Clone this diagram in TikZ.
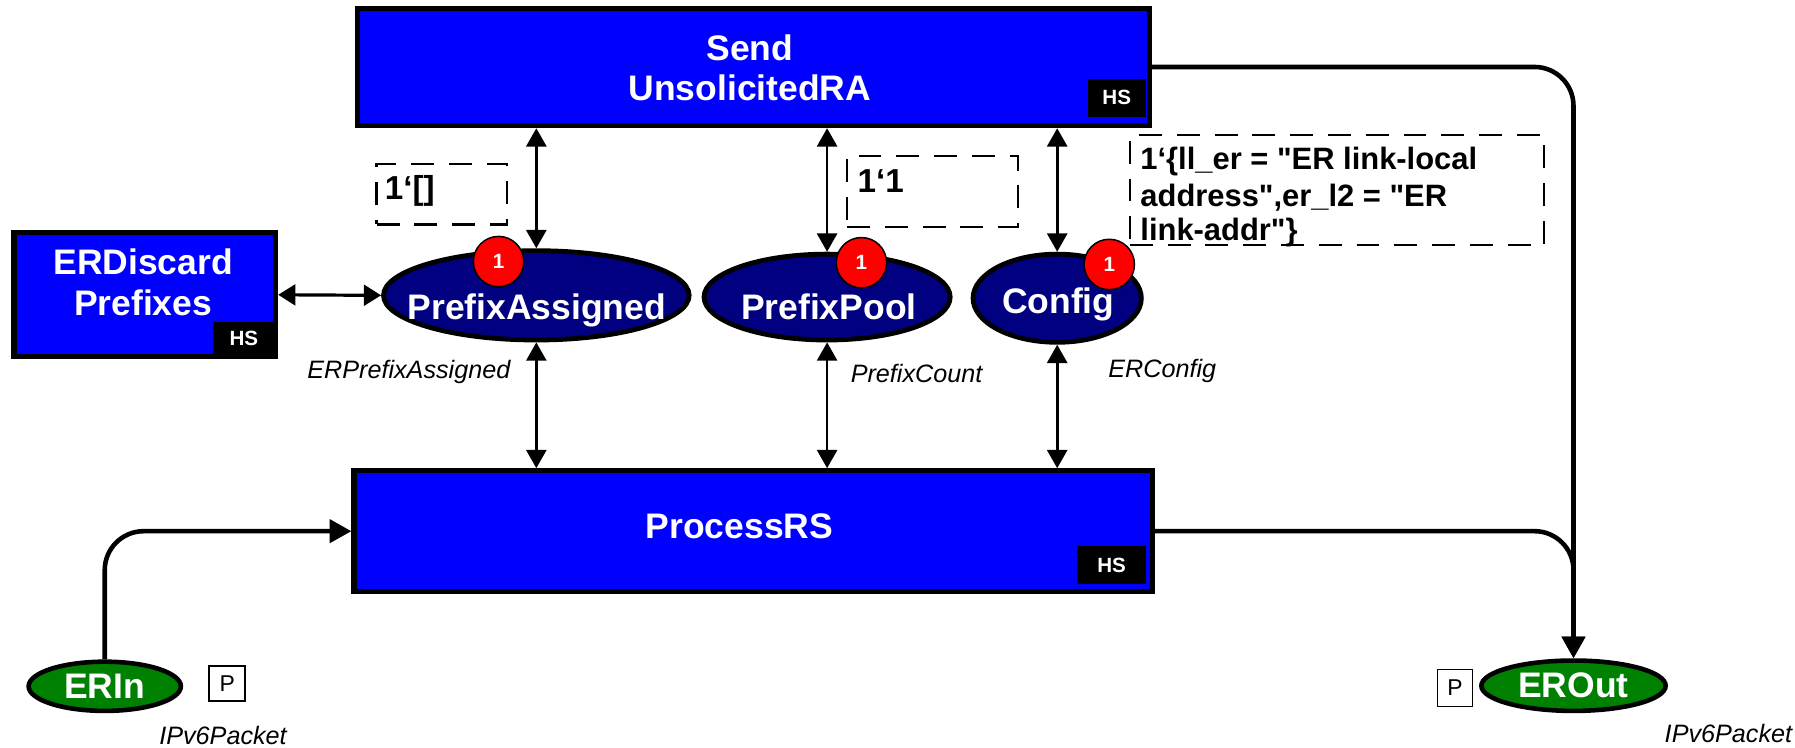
\documentclass[tikz,border=0pt]{standalone}
\usepackage{fontspec}
\setmainfont{Liberation Sans}[Ligatures=TeXOff]
\usetikzlibrary{arrows.meta,shapes.geometric}
\definecolor{transblue}{RGB}{0,0,255}
\definecolor{placenavy}{RGB}{0,0,128}
\definecolor{tokenred}{RGB}{255,0,0}
\definecolor{portgreen}{RGB}{0,128,0}
\begin{document}
\begin{tikzpicture}[x=1pt,y=-1pt,
  trans/.style={rectangle, draw=black, line width=4.5pt, fill=transblue, inner sep=0pt},
  place/.style={ellipse, draw=black, line width=4.2pt, fill=placenavy, inner sep=0pt},
  port/.style={ellipse, draw=black, line width=4pt, fill=portgreen, inner sep=0pt},
  lbl/.style={text=white, inner sep=0pt, anchor=base, font={\fontsize{31}{35}\selectfont\bfseries}},
  hstag/.style={rectangle, fill=black, text=white, inner sep=0pt, font={\fontsize{18}{20}\selectfont\bfseries}},
  token/.style={circle, draw=black, line width=1.3pt, fill=tokenred, text=white, inner sep=0pt,
    minimum size=44pt, font={\fontsize{18}{20}\selectfont\bfseries}},
  ptag/.style={rectangle, draw=black, line width=1.5pt, fill=white, inner sep=0pt,
    font={\fontsize{20}{24}\selectfont}},
  annot/.style={rectangle, draw=black, line width=2pt, dash pattern=on 20pt off 13pt, inner sep=0pt},
  inittxt/.style={inner sep=0pt, anchor=base west, font={\fontsize{29}{33}\selectfont\bfseries}},
  inittxtsm/.style={inner sep=0pt, anchor=base west, font={\fontsize{27}{31}\selectfont\bfseries}},
  typ/.style={inner sep=0pt, font={\fontsize{22}{26}\selectfont\itshape}},
  dbl/.style={line width=2.3pt, {Triangle[length=16pt,width=17.5pt]}-{Triangle[length=16pt,width=17.5pt]}},
  dblwide/.style={line width=2.8pt, {Triangle[length=15pt,width=18pt]}-{Triangle[length=15pt,width=18pt]}},
  flow/.style={line width=4pt, rounded corners=34pt, -{Triangle[length=19pt,width=20pt]}}
]
\useasboundingbox (0,0) rectangle (1568,653);

% transitions
\node[trans, minimum width=691.5pt, minimum height=102.5pt] (send) at (658,58.5) {};
\node[lbl] (send-t1) at (655,53) {Send};
\node[lbl] (send-t2) at (655,88) {UnsolicitedRA};
\node[hstag, minimum width=51pt, minimum height=33pt] (send-hs) at (975.5,85.5) {HS};

\node[trans, minimum width=697.5pt, minimum height=105.5pt] (prs) at (658,464) {};
\node[lbl] (prs-t) at (646,470) {ProcessRS};
\node[hstag, minimum width=60pt, minimum height=33pt] (prs-hs) at (971,493.5) {HS};

\node[trans, minimum width=228.5pt, minimum height=108.5pt] (erd) at (126.5,257.5) {};
\node[lbl] (erd-t1) at (125,240) {ERDiscard};
\node[lbl] (erd-t2) at (125,276) {Prefixes};
\node[hstag, minimum width=54pt, minimum height=30pt] (erd-hs) at (213,296) {HS};

% places
\node[place, minimum width=267pt, minimum height=78pt] (pa) at (468.5,258) {};
\node[lbl] (pa-t) at (469,279) {PrefixAssigned};
\node[token] (pa-tok) at (435.5,228.5) {1};

\node[place, minimum width=215pt, minimum height=75pt] (pp) at (722.5,259.5) {};
\node[lbl] (pp-t) at (724,279) {PrefixPool};
\node[token] (pp-tok) at (752.5,229.5) {1};

\node[place, minimum width=147pt, minimum height=77pt] (cfg) at (923.5,260.5) {};
\node[lbl] (cfg-t) at (924.5,274) {Config};
\node[token] (cfg-tok) at (969,231) {1};

% port places
\node[port, minimum width=133pt, minimum height=43pt] (erin) at (91.5,599.5) {};
\node[lbl, anchor=center] (erin-t) at (erin.center) {ERIn};
\node[ptag, minimum width=31.5pt, minimum height=30.5pt] (erin-p) at (198.5,597) {P};

\node[port, minimum width=161pt, minimum height=44pt] (erout) at (1374.5,599) {};
\node[lbl, anchor=center] (erout-t) at (erout.center) {EROut};
\node[ptag, minimum width=30.5pt, minimum height=32.5pt] (erout-p) at (1271,601) {P};

% initial markings
\node[annot, minimum width=114pt, minimum height=53pt] (pa-init) at (386,169.5) {};
\node[inittxt] (pa-init-t) at (336,174) {1‘[]};
\node[annot, minimum width=149pt, minimum height=62pt] (pp-init) at (814.5,167) {};
\node[inittxt] (pp-init-t) at (749,168) {1‘1};
\node[annot, minimum width=362pt, minimum height=96pt] (cfg-init) at (1168,166) {};
\node[inittxtsm] (cfg-init-1) at (996,148) {1‘\{ll\_er = "ER link-local};
\node[inittxtsm] (cfg-init-2) at (996,180) {address",er\_l2 = "ER};
\node[inittxtsm] (cfg-init-3) at (996,210) {link-addr"\}};

% colour sets
\node[typ, anchor=base east] (pa-cs) at (446,331) {ERPrefixAssigned};
\node[typ, anchor=base west] (pp-cs) at (743,334) {PrefixCount};
\node[typ, anchor=base west] (cfg-cs) at (968,330) {ERConfig};
\node[typ, anchor=base west] (erin-cs) at (139,650) {IPv6Packet};
\node[typ, anchor=base west] (erout-cs) at (1454,649) {IPv6Packet};

% arcs
\draw[dbl] (pa.north |- send.south) -- (pa.north);
\draw[dbl] (pa.south) -- (pa.south |- prs.north);
\draw[dbl] (pp.north |- send.south) -- (pp.north);
\draw[dbl] (pp.south) -- (pp.south |- prs.north);
\draw[dbl] (cfg.north |- send.south) -- (cfg.north);
\draw[dbl] (cfg.south) -- (cfg.south |- prs.north);
\draw[dblwide] (erd.east) -- (pa.west);
\draw[flow] (erin.north) |- (prs.west);
\draw[flow] (send.east) -| (erout.north);
\draw[flow] (prs.east) -| (erout.north);
\end{tikzpicture}
\end{document}
